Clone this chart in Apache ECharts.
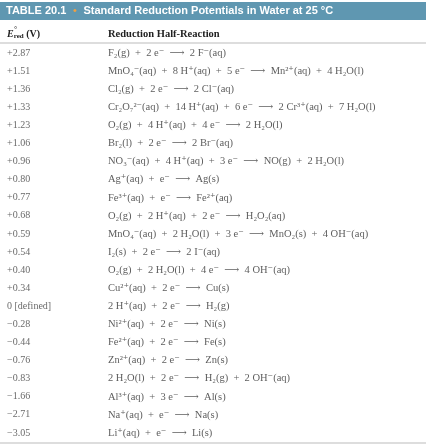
<!DOCTYPE html>
<html><head><meta charset="utf-8">
<script src="https://cdn.jsdelivr.net/npm/echarts@6/dist/echarts.min.js"></script>
<style>html,body{margin:0;padding:0;background:#fff}#c{width:426px;height:447px}</style>
</head><body><div id="c"></div>
<script>
const potentials = ['+2.87','+1.51','+1.36','+1.33','+1.23','+1.06','+0.96','+0.80','+0.77','+0.68','+0.59','+0.54','+0.40','+0.34','0 [defined]','\u22120.28','\u22120.44','\u22120.76','\u22120.83','\u22121.66','\u22122.71','\u22123.05'];
const reactions = [
 'F₂(g) + 2 e⁻ ⟶ 2 F⁻(aq)',
 'MnO₄⁻(aq) + 8 H⁺(aq) + 5 e⁻ ⟶ Mn²⁺(aq) + 4 H₂O(l)',
 'Cl₂(g) + 2 e⁻ ⟶ 2 Cl⁻(aq)',
 'Cr₂O₇²⁻(aq) + 14 H⁺(aq) + 6 e⁻ ⟶ 2 Cr³⁺(aq) + 7 H₂O(l)',
 'O₂(g) + 4 H⁺(aq) + 4 e⁻ ⟶ 2 H₂O(l)',
 'Br₂(l) + 2 e⁻ ⟶ 2 Br⁻(aq)',
 'NO₃⁻(aq) + 4 H⁺(aq) + 3 e⁻ ⟶ NO(g) + 2 H₂O(l)',
 'Ag⁺(aq) + e⁻ ⟶ Ag(s)',
 'Fe³⁺(aq) + e⁻ ⟶ Fe²⁺(aq)',
 'O₂(g) + 2 H⁺(aq) + 2 e⁻ ⟶ H₂O₂(aq)',
 'MnO₄⁻(aq) + 2 H₂O(l) + 3 e⁻ ⟶ MnO₂(s) + 4 OH⁻(aq)',
 'I₂(s) + 2 e⁻ ⟶ 2 I⁻(aq)',
 'O₂(g) + 2 H₂O(l) + 4 e⁻ ⟶ 4 OH⁻(aq)',
 'Cu²⁺(aq) + 2 e⁻ ⟶ Cu(s)',
 '2 H⁺(aq) + 2 e⁻ ⟶ H₂(g)',
 'Ni²⁺(aq) + 2 e⁻ ⟶ Ni(s)',
 'Fe²⁺(aq) + 2 e⁻ ⟶ Fe(s)',
 'Zn²⁺(aq) + 2 e⁻ ⟶ Zn(s)',
 '2 H₂O(l) + 2 e⁻ ⟶ H₂(g) + 2 OH⁻(aq)',
 'Al³⁺(aq) + 3 e⁻ ⟶ Al(s)',
 'Na⁺(aq) + e⁻ ⟶ Na(s)',
 'Li⁺(aq) + e⁻ ⟶ Li(s)'
];
const rows = potentials.map((p,i)=>'r'+i);
const serif = '"Liberation Serif","DejaVu Serif",serif';
const spaced = s => s.replace(/ \+ /g,'  +  ').replace(/ ⟶ /g,'  ⟶  ');
const chart = echarts.init(document.getElementById('c'));
chart.setOption({
  animation:false,
  grid:{left:7,right:0,top:44,height:398},
  xAxis:{type:'value',min:0,max:1,show:false},
  yAxis:{type:'category',data:rows,inverse:true,show:false},
  series:[
    {type:'scatter',symbolSize:0,data:potentials.map((p,i)=>[0,i]),
     label:{show:true,position:'right',distance:0,formatter:p=>potentials[p.dataIndex],fontFamily:serif,fontSize:10,color:'#444'}},
    {type:'scatter',symbolSize:0,data:reactions.map((r,i)=>[0.241,i]),
     label:{show:true,position:'right',distance:0,formatter:p=>spaced(reactions[p.dataIndex]),fontFamily:serif,fontSize:10.5,color:'#333'}}
  ],
  graphic:[
    {type:'rect',shape:{x:0,y:2,width:426,height:18},style:{fill:'#5f97b1'}},
    {type:'text',x:6,y:11,style:{text:'{a|TABLE 20.1}  {b|•}  {a|Standard Reduction Potentials in Water at 25 °C}',verticalAlign:'middle',
      rich:{a:{fill:'#fff',fontWeight:'bold',fontSize:11,fontFamily:'"Liberation Sans",Arial,sans-serif'},b:{fill:'#f0a040',fontSize:11}}}},
    {type:'text',x:7,y:34,style:{text:'{e|E}{s|red}{v| (V)}',verticalAlign:'middle',
      rich:{e:{fontFamily:serif,fontStyle:'italic',fontWeight:'bold',fontSize:10,fill:'#222'},s:{fontFamily:serif,fontWeight:'bold',fontSize:7,fill:'#222',padding:[5,0,0,0]},v:{fontFamily:serif,fontWeight:'bold',fontSize:10,fill:'#222'}}}},
    {type:'text',x:14,y:30,style:{text:'°',fontFamily:serif,fontSize:8,fill:'#222',verticalAlign:'middle'}},
    {type:'text',x:108,y:34,style:{text:'Reduction Half-Reaction',fontFamily:serif,fontWeight:'bold',fontSize:10.5,fill:'#222',verticalAlign:'middle'}},
    {type:'line',shape:{x1:0,y1:43,x2:426,y2:43},style:{stroke:'#bbb',lineWidth:1}},
    {type:'line',shape:{x1:0,y1:443,x2:426,y2:443},style:{stroke:'#bbb',lineWidth:1}}
  ]
});
</script></body></html>
